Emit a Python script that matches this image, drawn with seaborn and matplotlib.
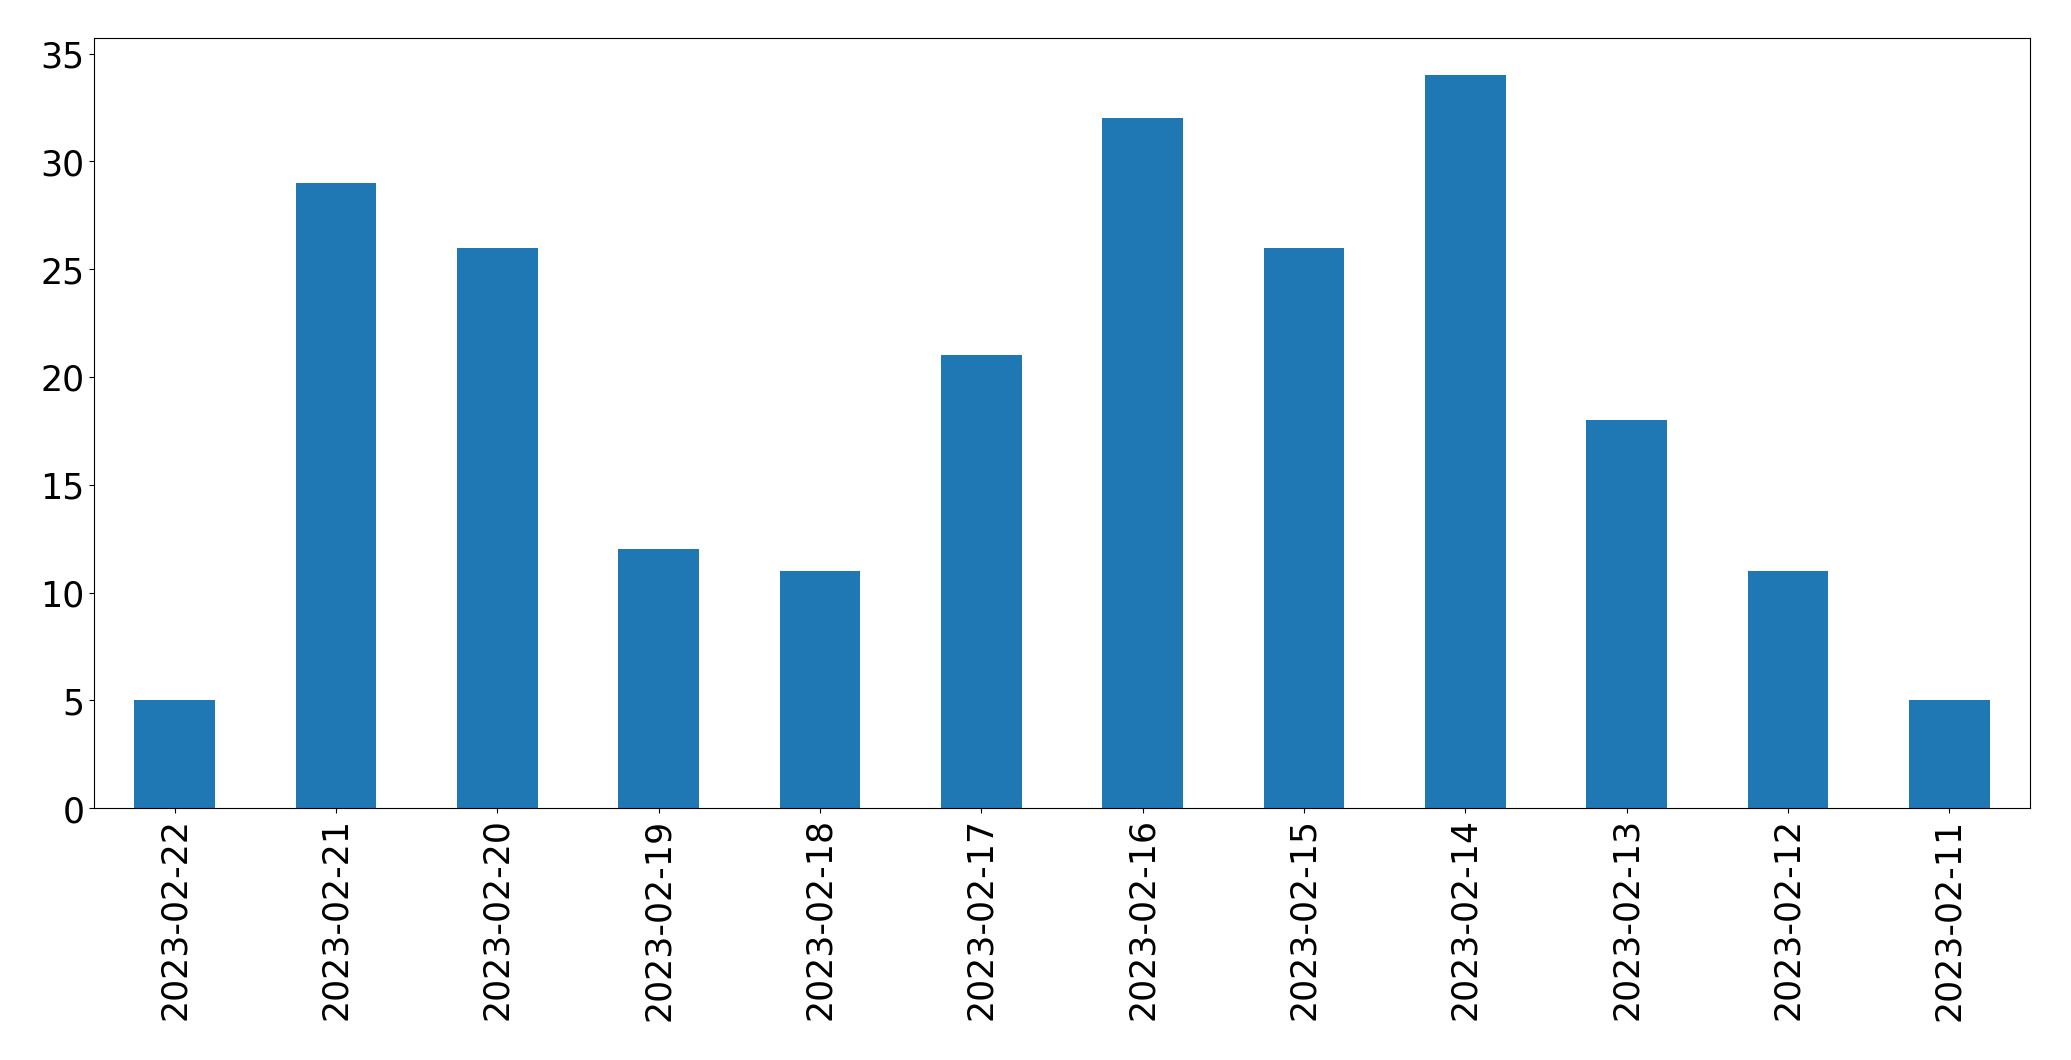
import pandas as pd
import matplotlib.pyplot as plt
import seaborn as sns

dates = ['2023-02-22', '2023-02-21', '2023-02-20', '2023-02-19', '2023-02-18', '2023-02-17',
         '2023-02-16', '2023-02-15', '2023-02-14', '2023-02-13', '2023-02-12', '2023-02-11']
counts = [5, 29, 26, 12, 11, 21, 32, 26, 34, 18, 11, 5]

df = pd.DataFrame({'date': dates, 'count': counts})

fig = plt.figure(figsize=(20.71, 10.605), dpi=100)
ax = fig.add_axes([94 / 2071, 1 - 809 / 1061, (2030 - 94) / 2071, (809 - 39) / 1061])

sns.barplot(data=df, x='date', y='count', order=dates, color='#1f77b4',
            saturation=1, width=0.5, ax=ax)

ax.set_xlim(-0.5, len(dates) - 0.5)
ax.set_ylim(0, max(counts) * 1.05)
ax.set_xlabel('')
ax.set_ylabel('')
ax.tick_params(axis='both', labelsize=25)
plt.setp(ax.get_xticklabels(), rotation=90)

plt.savefig('out.png', dpi=100)
plt.close()
